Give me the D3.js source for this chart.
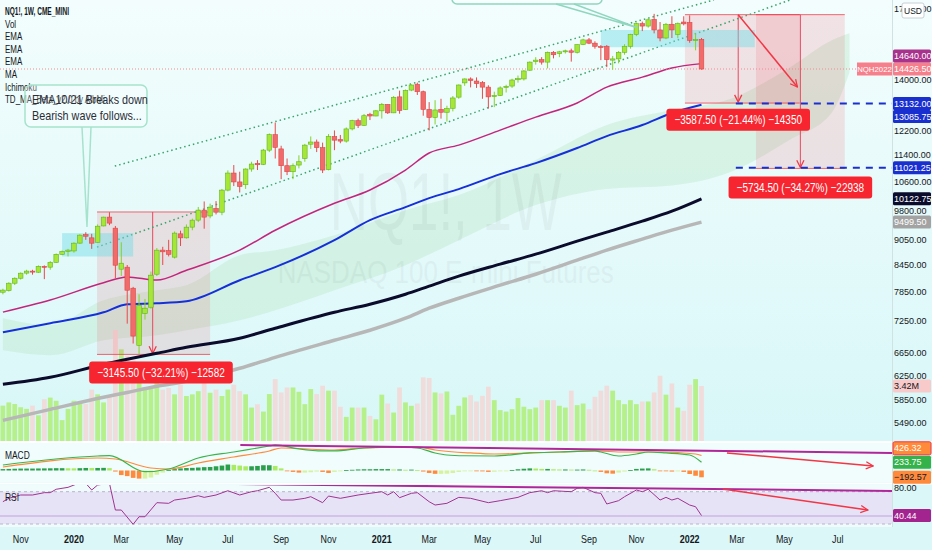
<!DOCTYPE html>
<html><head><meta charset="utf-8">
<script src="https://cdn.jsdelivr.net/npm/d3@7"></script>
<style>
html,body{margin:0;padding:0;background:#e2f8f8;}
svg{display:block;font-family:"Liberation Sans",Arial,sans-serif;}
</style></head><body>
<svg id="c" width="932" height="550"></svg>
<script>
// ---------------- DATA ----------------
// weekly bars, index 0 = week of 2019-10-14, last = week of 2022-01-17
const opens = [7845,7880,8040,8150,8265,8310,8285,8420,8400,8510,8700,8770,8780,8970,9180,9100,8990,9400,9630,9344,
8354,8400,7931,6787,7405,7530,8240,8800,8790,8633,9200,9100,9370,9550,9815,9660,9860,9760,10366,10860,
10600,10520,10980,11150,11120,11560,12060,11600,11080,10900,11100,11300,11750,11820,11640,10960,12000,11900,11850,12250,
12530,12370,12750,12690,12870,13100,12800,13370,12920,13620,13840,13560,12920,12640,12920,12820,12960,13360,13890,14040,
13960,13900,13730,13380,13420,13720,13770,14010,14040,14380,14720,14800,14700,15100,15050,15120,15160,15100,15420,15620,
15480,15340,15350,14780,14830,15100,15350,15850,16330,16220,16520,16050,15700,16300,15850,16400,16380,15620,15640];
const highs = [7920,8060,8170,8280,8340,8340,8440,8440,8540,8720,8790,8830,8990,9190,9240,9200,9440,9640,9760,9400,
8990,8450,7960,7800,7700,8300,8850,8880,9050,9260,9280,9440,9590,9900,10050,9990,10060,10400,10940,11100,
10900,11000,11200,11250,11600,12100,12465,11700,11300,11150,11400,11760,12000,11900,11800,12080,12200,12050,12300,12560,
12600,12760,12800,12900,13150,13100,13400,13600,13640,13830,13900,13600,13180,13250,13300,13050,13400,13830,14060,14100,
14100,13960,13800,13560,13760,13820,14050,14170,14380,14730,14900,14900,15130,15150,15160,15210,15250,15430,15670,15700,
15560,15400,15400,14950,15150,15440,15880,16380,16420,16570,16770,16400,16360,16660,16380,16660,16700,15900,15700];
const lows = [7800,7860,8000,8120,8230,8230,8270,8130,8340,8500,8680,8650,8740,8950,9050,8830,8980,9390,9420,8150,
8200,7200,6820,6628,7280,7500,8200,8450,8650,8600,8900,9080,9290,9500,9330,9600,9700,9680,10330,10480,
10300,10400,10900,10950,11100,11500,11300,10680,10800,10680,11000,11200,11600,11500,10860,10940,11560,11780,11800,12200,
12280,12350,12550,12680,12600,12760,12790,12770,12900,13580,13440,12700,12200,12400,12600,12500,12850,13300,13780,13720,
13700,13300,12950,13000,13400,13530,13700,13900,13980,14350,14600,14600,14450,14850,14900,15050,14720,15050,15400,15440,
15250,14780,14500,14400,14650,15000,15250,15780,16000,16150,15900,15560,15650,15700,15690,16250,15500,15180,14400];
const closes = [7890,8040,8150,8263,8310,8290,8420,8400,8510,8700,8770,8800,8968,9167,9140,8968,9394,9629,9473,8445,
8491,7888,6960,7571,7510,8218,8799,8760,8700,9218,9100,9369,9550,9815,9629,9895,9760,10366,10860,10600,
10470,10980,11130,11110,11563,12060,11650,11080,10900,11080,11200,11720,11820,11640,10950,12000,11880,11850,12250,12530,
12370,12700,12690,12870,13100,12800,13350,12880,13610,13810,13560,12920,12640,12900,12820,12950,13330,13810,14040,13980,
13860,13730,13370,13420,13700,13760,14000,14050,14350,14700,14780,14700,15100,15000,15120,15160,15100,15420,15620,15480,
15350,15330,14800,14830,15100,15350,15850,16330,16220,16500,16050,15700,16300,16050,16330,16320,15600,15630,14426.5];
const volumesM = [2.2,2.4,2.3,2.1,2.0,2.2,1.6,2.6,2.7,2.5,1.3,2.0,2.5,2.4,2.3,3.2,2.9,2.4,2.8,6.9,
5.7,5.3,5.0,4.2,3.3,3.4,3.6,3.2,3.3,2.9,3.5,2.8,2.9,3.1,3.9,3.0,3.2,2.8,3.2,3.5,3.1,2.9,
2.08,2.29,1.83,2.92,3.85,3.02,3.33,3.33,3.06,2.29,3.23,2.92,3.44,3.13,3.13,2.13,1.50,2.08,2.08,2.08,
1.56,1.35,2.88,2.33,1.77,3.33,2.40,2.19,2.33,3.96,3.92,3.02,2.96,3.08,1.63,2.19,2.71,2.85,2.46,2.81,
3.38,2.54,1.92,1.83,1.98,2.67,2.13,1.98,2.08,2.54,2.54,2.54,2.19,2.08,3.13,2.23,2.33,1.98,2.75,3.13,
3.44,3.13,2.54,2.29,2.54,2.29,2.46,2.46,3.02,4.06,2.88,3.58,2.08,1.88,3.50,3.85,3.42];

// moving averages sampled at bar indices
const lineIdx = [0,8,17,21,26,31,40,46,56,62,68,72,77,84,90,97,102,108,113,118];
const emaPink  = [7430,7680,8050,8180,8110,8330,8800,9290,10000,10370,10950,11470,11720,12210,12650,13150,13730,14110,14470,14640];
const emaBlue  = [7032,7208,7427,7592,7612,7654,8106,8400,9043,9550,9895,10142,10395,10829,11158,11627,12012,12380,12793,13085.75];
const emaBlack = [6101,6219,6444,6533,6640,6750,6919,7111,7427,7592,7802,7975,8196,8469,8703,9018,9243,9524,9787,10122.75];
const maGray   = [5530,5698,5889,5968,6068,6151,6374,6568,6880,7071,7307,7510,7717,7997,8240,8561,8799,9068,9293,9499.5];

// ichimoku cloud
const cloudIdx   = [0,8,17,26,31,40,46,56,68,77,90,102,113,123,133,140,143];
const cloudUpper = [7308,7168,7675,7888,7997,8680,8799,9167,9814,10226,11252,12380,12898,13300,14500,15600,15900];
const cloudLower = [6695,6604,6880,6975,7071,7266,7469,7888,8445,9043,9950,10400,10500,10900,11900,12800,14300];

// MACD
const macdHist = [40,45,50,55,55,55,58,60,62,66,66,64,62,66,72,70,72,75,68,
-30,-130,-160,-210,-230,-230,-200,-120,-60,10,40,
60,70,75,85,95,100,120,140,170,160,140,120,120,130,150,150,130,60,
-10,-40,-60,-60,-50,-30,-40,-70,-40,-10,
10,20,30,35,35,40,40,40,30,30,20,25,15,
-30,-70,-95,-95,-90,-70,-40,-10,
-5,-15,-25,-40,-35,-20,-5,15,35,50,60,55,45,45,35,30,30,25,25,30,
20,0,-40,-80,-90,-60,-30,10,45,55,60,35,-5,-20,-30,-25,-40,-100,-150,-192.57];
const macdIdx = [0,16,18,24,28,33,39,45,46,50,54,56,61,67,70,73,75,78,83,89,94,100,101,104,107,109,112,116,118];
const macdVal = [157,413,422,-34,43,356,527,698,727,613,556,556,641,670,641,499,442,420,413,499,527,556,527,413,470,527,499,442,233.75];
const signalIdx = [0,16,19,25,28,33,39,45,47,56,61,70,73,79,83,89,94,100,105,111,117,118];
const signalVal = [100,356,328,71,43,214,385,556,641,584,641,670,584,499,470,499,527,556,527,527,470,426.32];

// RSI
const rsiIdx = [0,1,3,5,7,8,9,11,13,14,15,16,18,19,20,22,23,24,26,28,29,31,33,34,36,38,40,42,43,45,46,47,49,51,52,54,55,57,60,62,64,65,66,67,69,70,72,73,75,77,79,82,84,87,89,91,92,93,96,97,98,100,101,102,104,105,107,108,109,111,112,113,114,116,117,118];
const rsiVal = [57.6,61.8,65.9,65.9,68.8,68.8,73,75.4,81.1,80.4,72.1,78.3,80.4,47.3,47.3,29.6,39,39,56.4,55.6,59.7,61.8,65,63,65.9,71.2,65.9,70,71.2,75.4,68,59.7,59.7,61.8,63.8,56.4,64.6,61.8,65.9,68,70,65.9,70,62.6,68,68.8,57.6,53.5,55.6,63,61.8,56.4,58.9,63,68.8,71.2,68.8,71.2,70,74.2,75.4,68.8,68,54.8,58.9,63.8,72.1,70,73,59.7,63,59.7,61.8,53.5,51.4,40.44];

// axes
const timeTickIdx = [3,12,20,29,38,47,55,64,72,81,90,99,107,116,124,132,141];
const timeTickLabels = ["Nov","2020","Mar","May","Jul","Sep","Nov","2021","Mar","May","Jul","Sep","Nov","2022","Mar","May","Jul"];
const priceTicks = [17000,14000,12200,11400,10600,9800,9050,8450,7850,7250,6650,6250,5850,5490];

// legend / annotations
const legendLines = ["NQ1!, 1W, CME_MINI","Vol","EMA","EMA","EMA","MA","Ichimoku","TD_MA_Beta_v2.0 by AlbMi"];
const measures = [
  {from:15.9, to:35, top:9765.5, bottom:6620, arrow:25.3, text:"\u22123145.50 (\u221232.21%) \u221212582"},
  {from:115.2, to:134.6, top:16733, bottom:13145.5, arrow:124.2, text:"\u22123587.50 (\u221221.44%) \u221214350"},
  {from:127.2, to:142.2, top:16733, bottom:10998.5, arrow:134.7, text:"\u22125734.50 (\u221234.27%) \u221222938"}
];
const targetLevels = [13132.00, 11021.25];

// ---------------- DRAW ----------------
const svg = d3.select("#c");
const PR = 892, MAINB = 441, MT = 443, MB = 482, RT = 485, RB = 527;
const x = d3.scaleLinear().domain([0,118]).range([2.9,701.5]);
const y = d3.scaleLog().domain([5490,14000]).range([423,80]);
const vY = d3.scaleLinear().domain([0,3.42]).range([MAINB,386]);
const mY = d3.scaleLinear().domain([0,800]).range([470.5,442.4]);
const rY = d3.scaleLinear().domain([30,70]).range([524,491.7]);
const bw = 4.6;
// condense text horizontally (narrow UI font look)
function cond(sel, r){ sel.each(function(){ const L=this.getComputedTextLength(); d3.select(this).attr("textLength",L*r).attr("lengthAdjust","spacingAndGlyphs"); }); return sel; }

const defs = svg.append("defs");
const gr = defs.append("linearGradient").attr("id","bg").attr("x1",0).attr("x2",0).attr("y1",0).attr("y2",1);
gr.append("stop").attr("offset","0%").attr("stop-color","#f3fdfd");
gr.append("stop").attr("offset","100%").attr("stop-color","#d8f7f8");
defs.append("clipPath").attr("id","mainClip").append("rect").attr("x",0).attr("y",0).attr("width",PR).attr("height",MAINB);
defs.append("clipPath").attr("id","macdClip").append("rect").attr("x",0).attr("y",MT).attr("width",PR).attr("height",MB-MT);
defs.append("clipPath").attr("id","rsiClip").append("rect").attr("x",0).attr("y",RT).attr("width",PR).attr("height",RB-RT);
const mk = defs.append("marker").attr("id","arr").attr("viewBox","0 0 10 10").attr("refX",9).attr("refY",5)
  .attr("markerWidth",9).attr("markerHeight",9).attr("orient","auto-start-reverse").attr("markerUnits","userSpaceOnUse");
mk.append("path").attr("d","M1,1 L9,5 L1,9").attr("fill","none").attr("stroke","#f23645").attr("stroke-width",1.4);

svg.append("rect").attr("width",932).attr("height",MAINB).attr("fill","url(#bg)");
svg.append("rect").attr("y",MAINB).attr("width",932).attr("height",550-MAINB).attr("fill","#dcf7f8");
svg.append("rect").attr("y",MT).attr("width",PR).attr("height",MB-MT).attr("fill","#f1fcfc");
svg.append("rect").attr("y",RT).attr("width",PR).attr("height",RB-RT).attr("fill","#f0fbfc");
svg.append("rect").attr("y",rY(70)).attr("width",PR).attr("height",rY(30)-rY(70)).attr("fill","#e6e3f7");
svg.append("line").attr("x1",0).attr("x2",932).attr("y1",MAINB+1).attr("y2",MAINB+1).attr("stroke","#ffffff").attr("stroke-width",2);
svg.append("line").attr("x1",0).attr("x2",932).attr("y1",MB+1.5).attr("y2",MB+1.5).attr("stroke","#ffffff").attr("stroke-width",2);
svg.append("line").attr("x1",PR+0.5).attr("x2",PR+0.5).attr("y1",0).attr("y2",RB).attr("stroke","#cfe3e4");

const main = svg.append("g").attr("clip-path","url(#mainClip)");

// cloud
const cloudPts = cloudIdx.map((d,i)=>({i:d,u:cloudUpper[i],l:cloudLower[i]}));
main.append("path").datum(cloudPts)
  .attr("d",d3.area().x(d=>x(d.i)).y0(d=>y(d.l)).y1(d=>y(d.u)).curve(d3.curveMonotoneX))
  .attr("fill","#bfe9cc").attr("opacity",0.45);

// volume
const bars = d3.range(opens.length);
main.append("g").selectAll("rect").data(bars).join("rect")
  .attr("x",i=>x(i)-2.4).attr("width",4.8)
  .attr("y",i=>vY(volumesM[i])).attr("height",i=>MAINB-vY(volumesM[i]))
  .attr("fill",i=>closes[i]>=opens[i]?"#b6f08a":"#f1dcdc");

// watermark
main.append("text").attr("x",x(74.8)).attr("y",y(9300)).attr("text-anchor","middle")
  .attr("font-size",82).attr("fill","#000").attr("opacity",0.035)
  .attr("textLength",232).attr("lengthAdjust","spacingAndGlyphs").text("NQ1!, 1W");
main.append("text").attr("x",x(74.8)).attr("y",y(8040)).attr("text-anchor","middle")
  .attr("font-size",31).attr("fill","#000").attr("opacity",0.035)
  .attr("textLength",336).attr("lengthAdjust","spacingAndGlyphs").text("NASDAQ 100 E-mini Futures");

// measure boxes
measures.forEach(m=>{
  main.append("rect").attr("x",x(m.from)).attr("y",y(m.top)).attr("width",x(m.to)-x(m.from))
    .attr("height",y(m.bottom)-y(m.top)).attr("fill","#f23645").attr("opacity",0.13);
  [m.top,m.bottom].forEach(v=>main.append("line").attr("x1",x(m.from)).attr("x2",x(m.to))
    .attr("y1",y(v)).attr("y2",y(v)).attr("stroke","#f23645").attr("stroke-width",1).attr("opacity",0.75));
  main.append("line").attr("x1",x(m.arrow)).attr("x2",x(m.arrow)).attr("y1",y(m.top)).attr("y2",y(m.bottom)-1)
    .attr("stroke","#e8485f").attr("stroke-width",1).attr("marker-end","url(#arr)");
});

// MAs
const lineGen = arr => d3.line().x((d,i)=>x(lineIdx[i])).y(d=>y(d)).curve(d3.curveMonotoneX)(arr);
main.append("path").attr("d",lineGen(maGray)).attr("fill","none").attr("stroke","#b7b7b7").attr("stroke-width",3.5);
main.append("path").attr("d",lineGen(emaBlack)).attr("fill","none").attr("stroke","#0b0b2b").attr("stroke-width",3);
main.append("path").attr("d",lineGen(emaBlue)).attr("fill","none").attr("stroke","#1530d8").attr("stroke-width",2);
main.append("path").attr("d",lineGen(emaPink)).attr("fill","none").attr("stroke","#c3257c").attr("stroke-width",1.5);

// channel lines
[[18.9,11069,120.1,17420],[15.9,8872,133,17420]].forEach(c=>{
  main.append("line").attr("x1",x(c[0])).attr("y1",y(c[1])).attr("x2",x(c[2])).attr("y2",y(c[3]))
   .attr("stroke","#3aa56b").attr("stroke-width",1.5).attr("stroke-dasharray","1.5,3");
});

// highlight zones
[[10,22,9218,8648],[101,127,16049,15310]].forEach(z=>{
  main.append("rect").attr("x",x(z[0])).attr("width",x(z[1])-x(z[0])).attr("y",y(z[2])).attr("height",y(z[3])-y(z[2]))
    .attr("fill","#6fdbe6").attr("opacity",0.45);
});

// last price line
main.append("line").attr("x1",0).attr("x2",PR).attr("y1",y(closes[118])).attr("y2",y(closes[118]))
  .attr("stroke","#f28a93").attr("stroke-width",1).attr("stroke-dasharray","1,2");

// candles
const cg = main.append("g");
bars.forEach(i=>{
  const up = closes[i]>=opens[i];
  cg.append("line").attr("x1",x(i)).attr("x2",x(i)).attr("y1",y(highs[i])).attr("y2",y(lows[i]))
    .attr("stroke",up?"#86d12a":"#e84a4a").attr("stroke-width",1);
  const t = y(Math.max(opens[i],closes[i])), b = y(Math.min(opens[i],closes[i]));
  cg.append("rect").attr("x",x(i)-bw/2).attr("width",bw).attr("y",t).attr("height",Math.max(1,b-t))
    .attr("fill",up?"#a5e636":"#f26b6b").attr("stroke",up?"#5fb51c":"#e04545").attr("stroke-width",0.6);
});

// red diagonal arrow
main.append("line").attr("x1",x(124.2)).attr("y1",y(16733)).attr("x2",x(134.2)).attr("y2",y(13735))
  .attr("stroke","#f23645").attr("stroke-width",1.5).attr("marker-end","url(#arr)");

// target dashed levels
targetLevels.forEach(v=>svg.append("line").attr("x1",x(123.8)).attr("x2",PR).attr("y1",y(v)).attr("y2",y(v))
  .attr("stroke","#1a2fd0").attr("stroke-width",2).attr("stroke-dasharray","7,6"));

// measure labels
const labelPos = [[26.7,6300],[124.2,12560],[134.7,10440]];
measures.forEach((m,k)=>{
  const cx = x(labelPos[k][0]), cy = y(labelPos[k][1]);
  const g = svg.append("g");
  const t = g.append("text").attr("x",cx).attr("y",cy+4.5).attr("text-anchor","middle")
    .attr("font-size",12.5).attr("fill","#fff").text(m.text);
  cond(t,0.8);
  const w = +t.attr("textLength")+16;
  g.insert("rect","text").attr("x",cx-w/2).attr("y",cy-11).attr("width",w).attr("height",22)
    .attr("rx",3).attr("fill","#f7252f");
});

// callouts
const co = svg.append("g");
co.append("rect").attr("x",25).attr("y",85).attr("width",122).attr("height",42).attr("rx",6)
  .attr("fill","#ffffff").attr("fill-opacity",0.3).attr("stroke","#a6e3cc").attr("stroke-width",1.5);
co.append("path").attr("d",`M82,127 L${x(14.2)},${y(9375)} L91,127`).attr("fill","none").attr("stroke","#a6e3cc").attr("stroke-width",1.5);
co.append("rect").attr("x",452).attr("y",-20).attr("width",150).attr("height",24).attr("rx",5)
  .attr("fill","#ffffff").attr("fill-opacity",0.35).attr("stroke","#8fd6bf").attr("stroke-width",1.5);
co.append("path").attr("d",`M556,4 L${x(107.2)},${y(16150)} L574,4`).attr("fill","none").attr("stroke","#8fd6bf").attr("stroke-width",1.5);

// legend
legendLines.forEach((t,k)=>{
  const tx = svg.append("text").attr("x",5).attr("y",15+k*12.6)
    .attr("font-size",10.5).attr("font-weight",k===0?"bold":"normal").attr("fill","#131722").text(t);
  cond(tx, k===0?0.62:0.76);
});
co.raise();
cond(co.append("text").attr("x",32).attr("y",104).attr("font-size",13.5).attr("fill","#2a2e39").text("EMA10/21 Breaks down"),0.8);
cond(co.append("text").attr("x",32).attr("y",120).attr("font-size",13.5).attr("fill","#2a2e39").text("Bearish wave follows..."),0.8);

// ---------- MACD pane ----------
const mg = svg.append("g").attr("clip-path","url(#macdClip)");
mg.append("g").selectAll("rect").data(bars).join("rect")
  .attr("x",i=>x(i)-2.3).attr("width",4.6)
  .attr("y",i=>Math.min(mY(0),mY(macdHist[i]))).attr("height",i=>Math.max(0.8,Math.abs(mY(macdHist[i])-mY(0))))
  .attr("fill",i=>{const v=macdHist[i],p=i?macdHist[i-1]:0; return v>=0?(v>=p?"#2a9f4c":"#a9ec64"):(v<p?"#ff8a3c":"#d6f29c");});
const mline = (idx,val)=>d3.line().x((d,i)=>x(idx[i])).y(d=>mY(d)).curve(d3.curveMonotoneX)(val);
mg.append("path").attr("d",mline(signalIdx,signalVal)).attr("fill","none").attr("stroke","#ff8a3a").attr("stroke-width",1.2);
mg.append("path").attr("d",mline(macdIdx,macdVal)).attr("fill","none").attr("stroke","#3cb44b").attr("stroke-width",1.2);
mg.append("line").attr("x1",x(40.1)).attr("x2",x(150.2)).attr("y1",mY(727)).attr("y2",mY(499)).attr("stroke","#b0279a").attr("stroke-width",2);
mg.append("line").attr("x1",x(122.3)).attr("x2",x(147)).attr("y1",mY(499)).attr("y2",mY(128)).attr("stroke","#f23645").attr("stroke-width",1.5).attr("marker-end","url(#arr)");
cond(svg.append("text").attr("x",5).attr("y",459).attr("font-size",10.5).attr("fill","#131722").text("MACD"),0.8);

// ---------- RSI pane ----------
const rg = svg.append("g").attr("clip-path","url(#rsiClip)");
[70,30].forEach(v=>rg.append("line").attr("x1",0).attr("x2",PR).attr("y1",rY(v)).attr("y2",rY(v))
  .attr("stroke","#b9b3cc").attr("stroke-dasharray","3,3"));
rg.append("line").attr("x1",0).attr("x2",PR).attr("y1",rY(40)).attr("y2",rY(40)).attr("stroke","#cdb9e6").attr("stroke-width",1.5);
rg.append("path").attr("d",d3.line().x((d,i)=>x(rsiIdx[i])).y(d=>rY(d))(rsiVal)).attr("fill","none").attr("stroke","#a0338f").attr("stroke-width",1);
rg.append("line").attr("x1",x(8)).attr("x2",x(150.2)).attr("y1",rY(82)).attr("y2",rY(70.9)).attr("stroke","#b0279a").attr("stroke-width",2);
rg.append("line").attr("x1",x(121.6)).attr("x2",x(146.1)).attr("y1",rY(73.3)).attr("y2",rY(47.3)).attr("stroke","#f23645").attr("stroke-width",1.5).attr("marker-end","url(#arr)");
cond(svg.append("text").attr("x",5).attr("y",501).attr("font-size",10.5).attr("fill","#131722").text("RSI"),0.8);

// ---------- time axis ----------
timeTickIdx.forEach((t,k)=>{
  const isYear = /^\d{4}$/.test(timeTickLabels[k]);
  cond(svg.append("text").attr("x",x(t)).attr("y",543).attr("text-anchor","middle").attr("font-size",10.5)
    .attr("font-weight",isYear?"bold":"normal").attr("fill","#131722").text(timeTickLabels[k]),0.85);
});

// ---------- price axis ----------
const fmt = d3.format(".2f");
const mainLabels = [
  {v:closes[118], bg:"#f67f8b", fg:"#fff"},
  {v:targetLevels[0], bg:"#1a2fd0", fg:"#fff"},
  {v:targetLevels[1], bg:"#1a2fd0", fg:"#fff"},
  {v:emaPink[emaPink.length-1], bg:"#a8328c", fg:"#fff"},
  {v:emaBlue[emaBlue.length-1], bg:"#1a2fd0", fg:"#fff"},
  {v:emaBlack[emaBlack.length-1], bg:"#0b0b2b", fg:"#fff"},
  {v:maGray[maGray.length-1], bg:"#a3a3a3", fg:"#fff"}
];
function place(items,gap){
  const placed=[];
  items.forEach(it=>{
    let yy=it.y, g=0, moved=true;
    while(moved && g++<20){ moved=false;
      placed.forEach(p=>{ if(Math.abs(yy-p.py)<gap-0.01){ yy = it.y<p.py ? p.py-gap : p.py+gap; moved=true; } });
    }
    it.py=yy; placed.push(it);
  });
}
const axisText = (xx,yy,txt,fill) => svg.append("text").attr("x",xx).attr("y",yy).attr("font-size",9).attr("fill",fill).text(txt);
mainLabels.forEach(d=>d.y=y(d.v));
place(mainLabels,13);
priceTicks.forEach(p=>{
  const yy=y(p);
  if(mainLabels.some(l=>Math.abs(l.py-yy)<10)) return;
  axisText(894, yy+3.2, fmt(p), "#131722");
});
function tag(yc,text,bg,fg,stroke){
  svg.append("rect").attr("x",893).attr("y",yc-6.5).attr("width",38).attr("height",13).attr("rx",1.5)
    .attr("fill",bg).attr("stroke",stroke||"none");
  axisText(894, yc+3.2, text, fg);
}
mainLabels.forEach(d=>tag(d.py,fmt(d.v),d.bg,d.fg));
// NQH2022 tag
svg.append("rect").attr("x",857).attr("y",mainLabels[0].py-6.5).attr("width",35).attr("height",13).attr("fill","#f67f8b");
svg.append("text").attr("x",874.5).attr("y",mainLabels[0].py+3).attr("text-anchor","middle").attr("font-size",7.8).attr("fill","#fff").text("NQH2022");
// USD box
svg.append("rect").attr("x",902).attr("y",3).attr("width",22).attr("height",15).attr("rx",2).attr("fill","#fff").attr("stroke","#c8d0d4");
svg.append("text").attr("x",913).attr("y",13.8).attr("text-anchor","middle").attr("font-size",8.5).attr("fill","#131722").text("USD");
// volume tag
tag(vY(volumesM[118]), "3.42M", "#f8caca", "#131722");
// MACD tags
const macdLabels = [
  {v:macdHist[118], bg:"#ff8a3c", fg:"#131722", stroke:null},
  {v:macdVal[macdVal.length-1], bg:"#35b24a", fg:"#fff", stroke:null},
  {v:signalVal[signalVal.length-1], bg:"#ff8a3a", fg:"#fff", stroke:"#f23645"}
];
macdLabels.forEach(d=>d.y=mY(d.v));
place(macdLabels,14);
macdLabels.forEach(d=>tag(d.py,fmt(d.v),d.bg,d.fg,d.stroke));
// RSI tags
axisText(894, RT+6, "80.00", "#131722");
tag(rY(rsiVal[rsiVal.length-1]), fmt(rsiVal[rsiVal.length-1]), "#a3248f", "#fff");
</script>
</body></html>
